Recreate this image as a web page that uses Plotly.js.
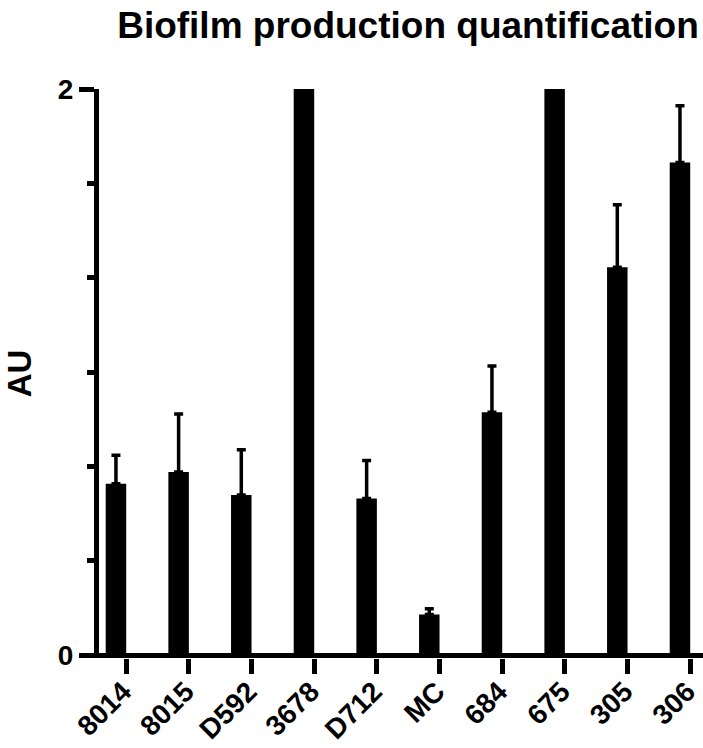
<!DOCTYPE html>
<html><head><meta charset="utf-8">
<script src="https://cdn.plot.ly/plotly-3.0.1.min.js"></script>
<style>html,body{margin:0;padding:0;background:#fff}</style>
</head><body><div id="chart" style="width:703px;height:748px"></div>
<script>
const strains = ['8014','8015','D592','3678','D712','MC','684','675','305','306'];
const meanAU = [0.606,0.647,0.566,2.0,0.554,0.144,0.858,2.0,1.370,1.740];
const errUp = [0.100,0.205,0.160,0,0.134,0.020,0.164,0,0.221,0.201];
const errDown = [0,0,0,0,0,0,0,0,0,0];
const yMajorTicks = [0,2];
const yMajorText = ['0','2'];
const yMinorTicks = [1/3,2/3,1,4/3,5/3];
const F = 'Liberation Sans, Arial, Helvetica, sans-serif';

const trace = {
  type:'bar', x:strains, y:meanAU,
  width:0.327, offset:-0.327,
  marker:{color:'#000', line:{width:0}},
  error_y:{type:'data', symmetric:false, array:errUp, arrayminus:errDown,
           color:'#000', thickness:3.5, width:4.5},
  hoverinfo:'x+y'
};
const layout = {
  width:703, height:748,
  margin:{l:99, r:0, t:89, b:90, autoexpand:false},
  paper_bgcolor:'#fff', plot_bgcolor:'#fff',
  showlegend:false,
  title:{text:'Biofilm production quantification', x:408/703, xref:'container', xanchor:'center',
         y:1-25/748, yref:'container', yanchor:'middle',
         font:{family:F, size:37, color:'#000', weight:700}},
  xaxis:{type:'category', range:[-0.434, 9.204], showline:false, showgrid:false, zeroline:false,
         ticks:'outside', ticklen:15, tickwidth:5, tickcolor:'#000', tickangle:-45,
         ticklabelstandoff:-10, ticklabelshift:-3,
         tickfont:{family:F, size:28, color:'#000', weight:700}, automargin:false},
  yaxis:{range:[-0.0097, 2], showline:true, linewidth:5.5, linecolor:'#000', showgrid:false,
         zeroline:true, zerolinewidth:5.5, zerolinecolor:'#000',
         tickmode:'array', tickvals:yMajorTicks, ticktext:yMajorText,
         ticks:'outside', ticklen:14.5, tickwidth:5, tickcolor:'#000',
         tickfont:{family:F, size:28, color:'#000', weight:700},
         minor:{tickmode:'array', tickvals:yMinorTicks, ticks:'outside', ticklen:6.7, tickwidth:5, tickcolor:'#000', showgrid:false},
         title:{text:'AU', standoff:18, font:{family:F, size:33, color:'#000', weight:700}},
         automargin:false}
};
Plotly.newPlot('chart',[trace],layout,{displayModeBar:false, staticPlot:true});
</script></body></html>
